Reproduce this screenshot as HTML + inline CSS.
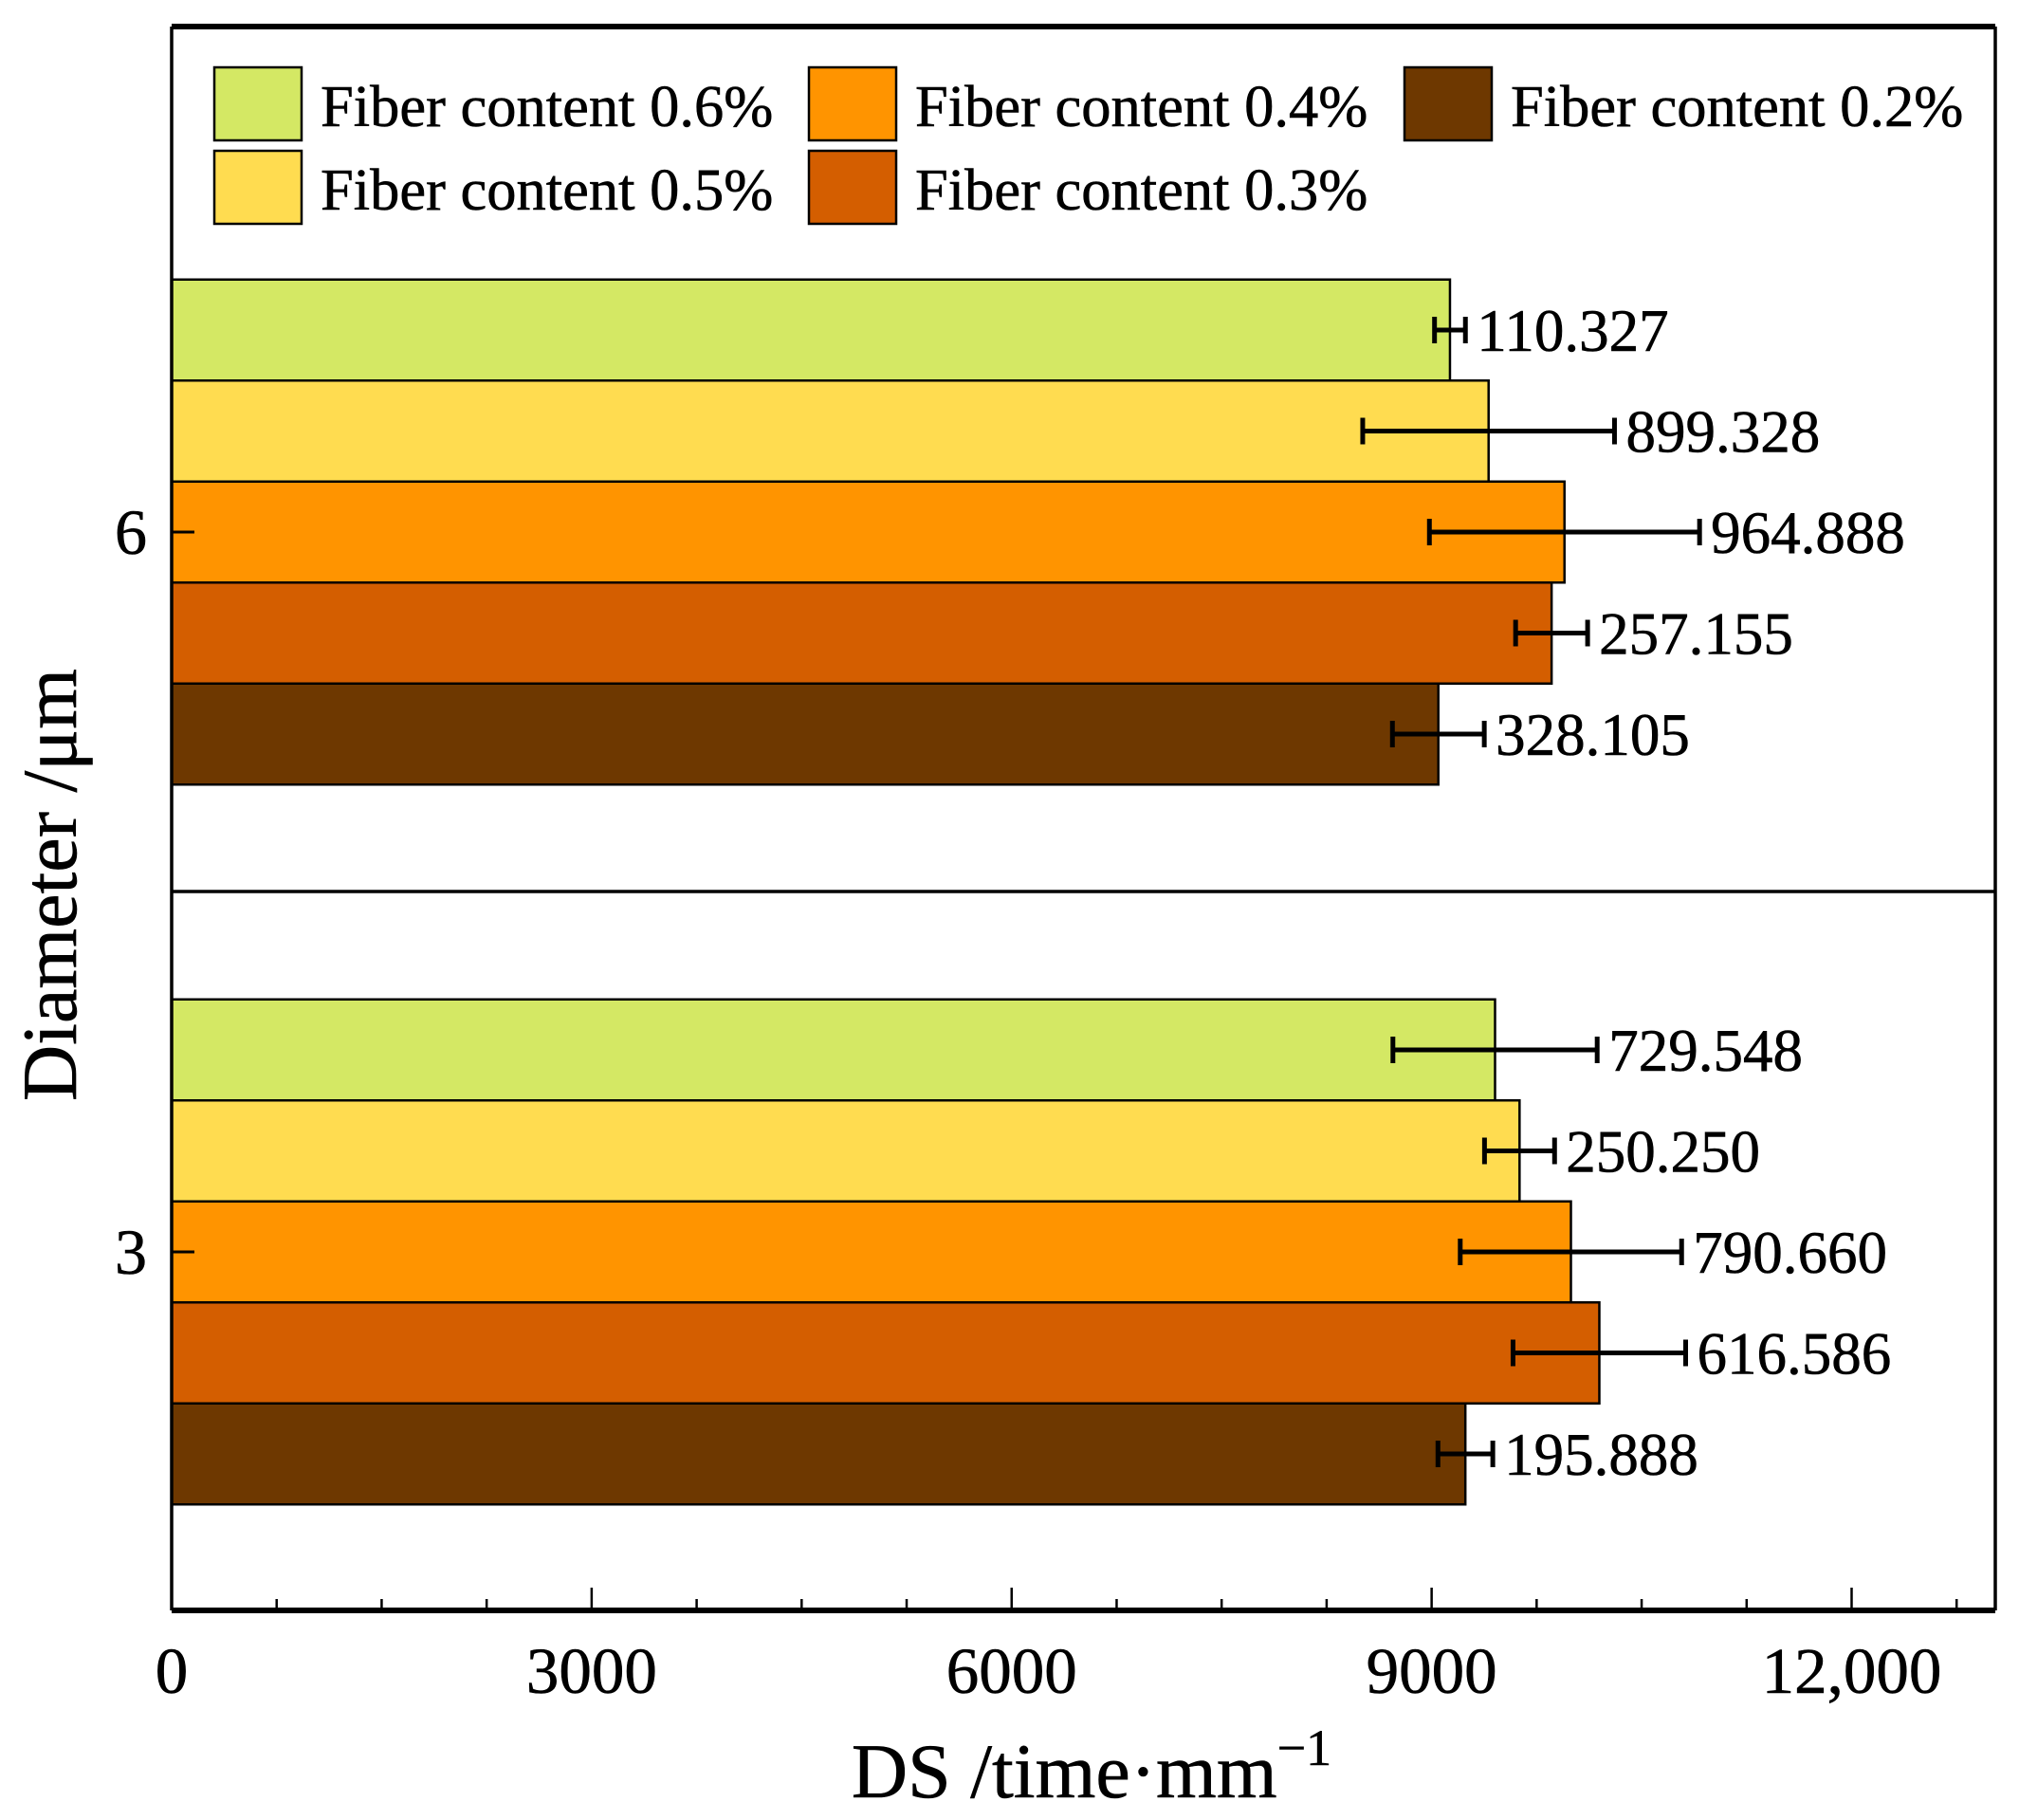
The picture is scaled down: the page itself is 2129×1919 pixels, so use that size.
<!DOCTYPE html>
<html><head><meta charset="utf-8"><style>
html,body{margin:0;padding:0;background:#fff;}
svg{display:block;font-family:"Liberation Serif",serif;}
svg text{stroke:#000;stroke-width:0.6;}
</style></head><body>
<svg id="chart" width="2129" height="1919" viewBox="0 0 2129 1919" xmlns="http://www.w3.org/2000/svg">
<g id="bars"></g>
<g id="axes"></g>
<g id="legend"></g>
</svg>
<script>
const categories = ["6", "3"];
const seriesNames = ["Fiber content 0.6%", "Fiber content 0.5%", "Fiber content 0.4%", "Fiber content 0.3%", "Fiber content 0.2%"];
const seriesColors = ["#d4e864", "#ffdc50", "#ff9400", "#d45e00", "#6e3800"];
const valuesD6 = [9131, 9407, 9949, 9857, 9048];
const errorsD6 = [110.327, 899.328, 964.888, 257.155, 328.105];
const valuesD3 = [9453, 9628, 9995, 10198, 9241];
const errorsD3 = [729.548, 250.250, 790.660, 616.586, 195.888];
const errLabelsD6 = ["110.327", "899.328", "964.888", "257.155", "328.105"];
const errLabelsD3 = ["729.548", "250.250", "790.660", "616.586", "195.888"];
const xTicks = [0, 3000, 6000, 9000, 12000];
const xTickLabels = ["0", "3000", "6000", "9000", "12,000"];

const NS = "http://www.w3.org/2000/svg";
const L = 181, R = 2104, T = 28, B = 1698;
const xMax = 13000;
function xs(v){ return L + v / 12000 * (1952.5 - L); }
const catCenters = [561, 1320];
const barH = 106.5;
function mk(tag, attrs, parent){ const e = document.createElementNS(NS, tag); for (const k in attrs) e.setAttribute(k, attrs[k]); parent.appendChild(e); return e; }

const bars = document.getElementById('bars');
const axes = document.getElementById('axes');
const legend = document.getElementById('legend');
const allVals = [valuesD6, valuesD3], allErr = [errorsD6, errorsD3], allLab = [errLabelsD6, errLabelsD3];

categories.forEach((c, ci) => {
  const top0 = catCenters[ci] - barH * 2.5;
  seriesNames.forEach((s, si) => {
    const y = top0 + si * barH;
    const v = allVals[ci][si], e = allErr[ci][si];
    const r = mk('rect', {x: L, y: y, width: xs(v) - L, height: barH, fill: seriesColors[si], stroke: '#000', 'stroke-width': 2.5}, bars);
    
    
    const cy = y + barH / 2, x1 = xs(v - e), x2 = xs(v + e);
    const g = mk('g', {stroke: '#000', 'stroke-width': 5}, bars);
    
    
    mk('line', {x1: x1, y1: cy, x2: x2, y2: cy}, g);
    mk('line', {x1: x1, y1: cy - 14, x2: x1, y2: cy + 14}, g);
    mk('line', {x1: x2, y1: cy - 14, x2: x2, y2: cy + 14}, g);
    const t = mk('text', {x: x2 + 12, y: cy + 22, 'font-size': 63, fill: '#000'}, bars);
    t.textContent = allLab[ci][si];
    
    
  });
});

mk('line', {x1: L, y1: T, x2: R, y2: T, stroke: '#000', 'stroke-width': 6}, axes);
mk('line', {x1: L, y1: B, x2: R, y2: B, stroke: '#000', 'stroke-width': 6}, axes);
mk('line', {x1: L, y1: T, x2: L, y2: B, stroke: '#000', 'stroke-width': 3.5}, axes);
mk('line', {x1: R, y1: T, x2: R, y2: B, stroke: '#000', 'stroke-width': 3.5}, axes);
mk('line', {x1: L, y1: 940, x2: R, y2: 940, stroke: '#000', 'stroke-width': 3.5}, axes);
for (let v = 0; v <= xMax; v += 750) {
  const major = v % 3000 === 0;
  mk('line', {x1: xs(v), y1: B, x2: xs(v), y2: B - (major ? 24 : 12), stroke: '#000', 'stroke-width': 2.5}, axes);
}
xTicks.forEach((v, i) => {
  const t = mk('text', {x: xs(v), y: 1785, 'font-size': 69, 'text-anchor': 'middle'}, axes);
  t.textContent = xTickLabels[i];
  
  
});
categories.forEach((c, ci) => {
  mk('line', {x1: L, y1: catCenters[ci], x2: L + 24, y2: catCenters[ci], stroke: '#000', 'stroke-width': 3}, axes);
  const t = mk('text', {x: 155, y: catCenters[ci] + 23, 'font-size': 68, 'text-anchor': 'end'}, axes);
  t.textContent = c;
  
  
});
</script>
<script>
(function(){
  const axes = document.getElementById('axes');
  const legend = document.getElementById('legend');
  const xt = mk('text', {x: 1151, y: 1895, 'font-size': 82, 'text-anchor': 'middle'}, axes);
  xt.innerHTML = 'DS /time·mm<tspan dy="-34" font-size="54">−1</tspan>';
  
  
  const yt = mk('text', {x: 0, y: 0, 'font-size': 82, 'text-anchor': 'middle', transform: 'translate(80,933) rotate(-90)'}, axes);
  yt.textContent = 'Diameter /μm';
  
  
  const colX = [226, 853, 1481], rowY = [71, 159];
  const order = [[0,0],[1,0],[0,1],[1,1],[0,2]];
  seriesNames.forEach((s, si) => {
    const row = order[si][0], col = order[si][1];
    const g = mk('g', {}, legend);
    
    
    mk('rect', {x: colX[col], y: rowY[row], width: 92, height: 77, fill: seriesColors[si], stroke: '#000', 'stroke-width': 2.5}, g);
    const t = mk('text', {x: colX[col] + 112, y: rowY[row] + 62, 'font-size': 62.5}, g);
    t.textContent = s;
  });
})();
</script>
</body></html>
